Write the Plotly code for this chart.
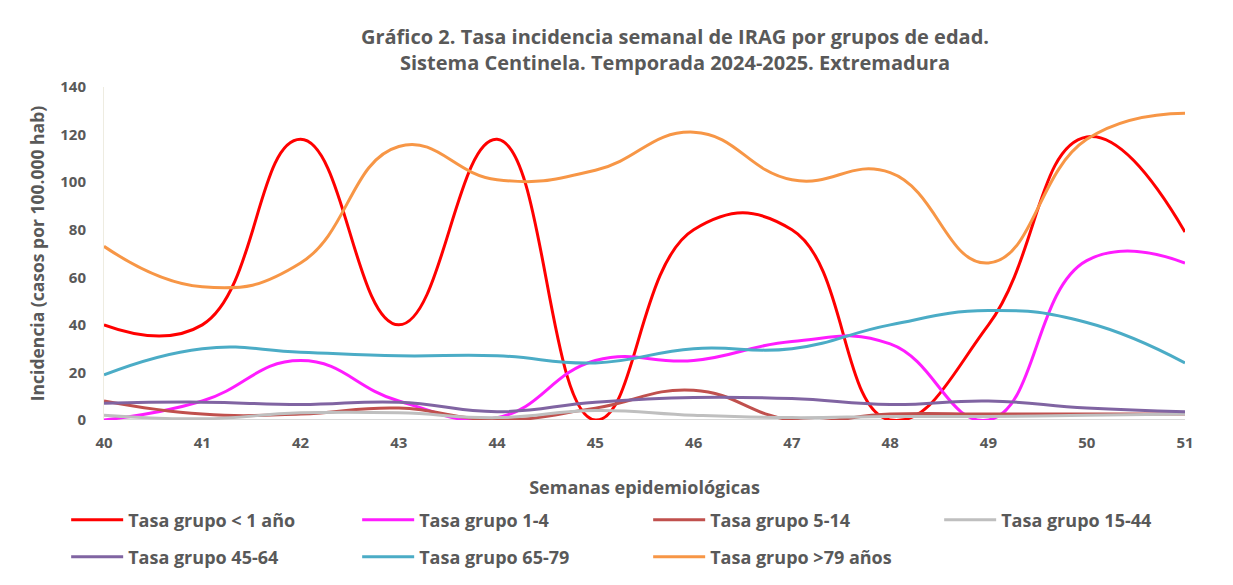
import plotly.graph_objects as go

weeks = [40, 41, 42, 43, 44, 45, 46, 47, 48, 49, 50, 51]
g_lt1 = [40, 40, 118, 40, 118, 0, 80, 80, 0, 40, 119, 79]
g_1_4 = [0, 8, 25, 8, 1, 25, 25, 33, 32, 0, 67, 66]
g_5_14 = [8, 2.5, 2.5, 5, 0, 5, 12.5, 0, 2.5, 2.5, 2.5, 2.5]
g_15_44 = [2, 0.5, 3, 3, 1, 4, 2, 1, 1.5, 1.5, 2, 2.5]
g_45_64 = [7, 7.5, 6.5, 7.5, 3.5, 7.5, 9.5, 9, 6.5, 8, 5, 3.5]
g_65_79 = [19, 30, 28.5, 27, 27, 24, 30, 30, 40, 46, 41, 24]
g_gt79 = [73, 56, 66, 115, 101, 105, 121, 101, 104, 66, 118, 129]

series = [
    ("Tasa grupo < 1 año", g_lt1, "#ff0000", "legend"),
    ("Tasa grupo 1-4", g_1_4, "#ff1cff", "legend"),
    ("Tasa grupo 5-14", g_5_14, "#c0504d", "legend"),
    ("Tasa grupo 15-44", g_15_44, "#bfbfbf", "legend"),
    ("Tasa grupo 45-64", g_45_64, "#8064a2", "legend2"),
    ("Tasa grupo 65-79", g_65_79, "#4bacc6", "legend2"),
    ("Tasa grupo >79 años", g_gt79, "#f79646", "legend2"),
]

FONT = "Open Sans"
GRAY = "#595959"
W, H = 1225, 577
L, R, T, B = 96, 48, 79, 165
PH = H - T - B
PW = W - L - R

fig = go.Figure()
for name, vals, col, lg in series:
    fig.add_trace(go.Scatter(
        x=weeks, y=vals, name=name, mode="lines", legend=lg,
        line=dict(color=col, width=3, shape="spline", smoothing=1.3),
    ))

leg_common = dict(
    orientation="h", xanchor="left", yanchor="middle",
    entrywidth=224, entrywidthmode="pixels",
    font=dict(family=FONT, size=18, color=GRAY, weight="bold"),
    itemwidth=52, bgcolor="rgba(0,0,0,0)",
)

fig.update_layout(
    width=W, height=H,
    paper_bgcolor="white", plot_bgcolor="white",
    margin=dict(l=L, r=R, t=T, b=B, autoexpand=False),
    font=dict(family=FONT, color=GRAY, size=14),
    title=dict(
        text="<b>Gráfico 2. Tasa incidencia semanal de IRAG por grupos de edad.<br>Sistema Centinela. Temporada 2024-2025. Extremadura</b>",
        x=(667 - L) / PW, xanchor="center", xref="paper", y=1 - 36 / H, yanchor="middle",
        font=dict(family=FONT, size=20, color=GRAY),
    ),
    xaxis=dict(
        range=[40, 51], tickvals=weeks, ticktext=[str(w) for w in weeks],
        showgrid=False, zeroline=False, showline=False, ticks="",
        ticklabelstandoff=12,
        tickfont=dict(family=FONT, size=15, color=GRAY, weight="bold"),
        title=dict(text="<b>Semanas epidemiológicas</b>", font=dict(family=FONT, size=18, color=GRAY), standoff=30),
    ),
    yaxis=dict(
        range=[0, 140], tickvals=[0, 20, 40, 60, 80, 100, 120, 140],
        showgrid=False, zeroline=False, showline=True, linecolor="#eeece1", linewidth=1,
        ticks="", ticklabelstandoff=14,
        tickfont=dict(family=FONT, size=15, color=GRAY, weight="bold"),
        title=dict(text="<b>Incidencia (casos por 100.000 hab)</b>", font=dict(family=FONT, size=17.5, color=GRAY), standoff=11),
    ),
    legend=dict(x=-0.035, y=-100 / PH, **leg_common),
    legend2=dict(x=-0.035, y=-137 / PH, **leg_common),
    showlegend=True,
)

# baseline at y=0
fig.add_shape(type="line", xref="paper", yref="y", x0=0, x1=1, y0=0, y1=0,
              line=dict(color="#d9d9d9", width=2), layer="below")

fig.write_html("out.html")
